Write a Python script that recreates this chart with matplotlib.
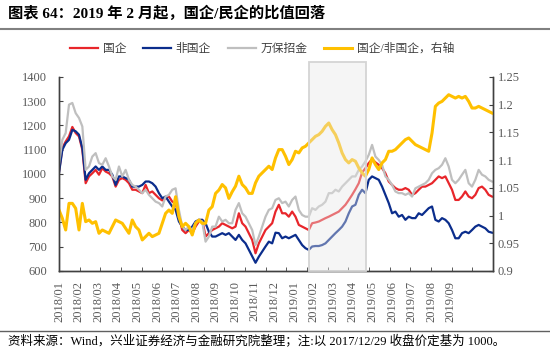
#! /usr/bin/env python3

# 图表64：2019 年 2 月起，国企/民企的比值回落

import numpy as np
import matplotlib.pyplot as plt
from matplotlib.patches import Rectangle
from matplotlib.lines import Line2D
import matplotlib.transforms as mtransforms

plt.rcParams['font.family'] = ['Liberation Serif', 'Noto Sans CJK SC']

# Values, one point every ~3.4 trading days (2018/01 - 2019/10).
guoqi = [1010, 1107, 1134, 1155, 1194, 1169, 1155, 1100, 962, 990, 1003, 1017, 997, 1024, 1010, 1003,
         990, 948, 976, 983, 976, 962, 935, 935, 928, 921, 955, 921, 928, 914, 900, 891,
         900, 907, 886, 880, 824, 769, 756, 769, 756, 783, 804, 811, 742, 756, 769, 776, 783,
         797, 790, 783, 776, 783, 838, 797, 783, 756, 728, 673, 714, 742, 769, 783, 797,
         845, 873, 838, 838, 824, 845, 824, 790, 783, 776, 769, 797, 800, 804, 811, 818, 824,
         831, 838, 845, 859, 873, 893, 914, 937, 962, 1006, 1024, 1045, 1061, 1048, 1038, 1024,
         1003, 969, 955, 942, 935, 935, 942, 935, 914, 921, 935, 948, 948, 955, 962, 976, 990,
         983, 990, 962, 935, 893, 893, 907, 928, 907, 900, 914, 942, 948, 935, 914, 907]
feiguoqi = [1005, 1100, 1127, 1141, 1182, 1176, 1162, 1107, 976, 1003, 1017, 1031, 1017, 1031, 1017, 1017,
            997, 955, 990, 990, 983, 976, 948, 948, 948, 955, 969, 969, 962, 948, 921, 900,
            907, 886, 866, 852, 804, 783, 769, 769, 783, 804, 811, 811, 797, 762, 742, 742, 749,
            756, 749, 756, 742, 728, 749, 728, 714, 687, 659, 634, 659, 680, 701, 721, 714,
            758, 756, 735, 742, 735, 742, 749, 728, 707, 694, 687, 701, 703, 703, 707, 714, 728,
            742, 756, 769, 783, 804, 838, 866, 873, 914, 935, 921, 976, 990, 983, 976, 948,
            914, 880, 838, 845, 824, 831, 811, 824, 818, 818, 838, 831, 845, 859, 866, 811, 804,
            818, 811, 797, 769, 735, 735, 756, 762, 756, 769, 783, 790, 783, 776, 762, 758]
wanbao = [1040, 1141, 1169, 1286, 1293, 1251, 1231, 1196, 1017, 1031, 1072, 1086, 1045, 1038, 1065, 1031,
          990, 976, 1031, 990, 1017, 976, 955, 948, 935, 921, 935, 914, 900, 886, 880, 866,
          907, 914, 935, 941, 852, 783, 769, 783, 769, 797, 811, 804, 721, 742, 783, 783, 824,
          804, 811, 797, 797, 852, 880, 838, 824, 797, 769, 707, 742, 783, 824, 852, 859,
          893, 900, 880, 886, 866, 893, 907, 852, 831, 824, 824, 859, 852, 866, 873, 886, 921,
          921, 935, 928, 948, 962, 976, 990, 990, 1017, 1031, 1052, 1079, 1120, 1072, 1058, 1038,
          990, 976, 955, 928, 921, 921, 914, 921, 907, 941, 948, 955, 962, 976, 1003, 1017, 1024,
          1038, 1065, 1031, 976, 962, 976, 997, 1017, 962, 948, 976, 1017, 997, 990, 976, 969]
ratio = [1.010, 0.995, 0.974, 1.022, 1.022, 1.013, 0.974, 1.022, 0.989, 0.992, 0.986, 0.989, 0.968, 0.974,
         0.971, 0.968, 0.980, 0.992, 0.989, 0.986, 0.977, 0.968, 0.992, 0.980, 0.974, 0.956, 0.962, 0.968,
         0.962, 0.965, 0.968, 0.986,
         1.004, 1.010, 1.004, 1.034, 0.998, 0.980, 0.986, 0.980, 0.965, 0.986, 0.992, 0.986, 0.986, 1.010,
         1.016, 1.040, 1.046, 1.056, 1.050, 1.031, 1.043, 1.053, 1.071, 1.056, 1.050, 1.040, 1.040, 1.059,
         1.071, 1.077, 1.083, 1.089, 1.083,
         1.104, 1.119, 1.119, 1.107, 1.092, 1.101, 1.116, 1.113, 1.122, 1.125, 1.131, 1.137, 1.143, 1.146,
         1.152, 1.161, 1.167, 1.155, 1.146, 1.131, 1.113, 1.101, 1.095, 1.101, 1.098, 1.086, 1.077, 1.071,
         1.083, 1.104, 1.092, 1.083, 1.095,
         1.101, 1.116, 1.116, 1.119, 1.125, 1.131, 1.137, 1.140, 1.134, 1.128, 1.125, 1.122, 1.119, 1.116,
         1.149, 1.197, 1.203, 1.206, 1.212, 1.218, 1.215, 1.212, 1.215, 1.212, 1.215, 1.206, 1.194, 1.194,
         1.197, 1.194, 1.191, 1.188, 1.185]

month_labels = ['2018/01', '2018/02', '2018/03', '2018/04', '2018/05', '2018/06', '2018/07',
                '2018/08', '2018/09', '2018/10', '2018/11', '2018/12', '2019/01', '2019/02',
                '2019/03', '2019/04', '2019/05', '2019/06', '2019/07', '2019/08', '2019/09']

# trading-day index of each point; labels every 20 trading days
days = np.arange(len(guoqi)) * 3.4
label_days = np.arange(len(month_labels)) * 20
# shaded period (2019/02 - 2019/04), in trading days
shade_start, shade_end = 255, 313

fig = plt.figure(figsize=(5.5, 3.53), dpi=100)
ax = fig.add_axes([0.1073, 0.2323, 0.789, 0.5496])
ax2 = ax.twinx()

ax.plot(days, guoqi, color='#e8262b', lw=1.6, label='国企')
ax.plot(days, feiguoqi, color='#0b2d8c', lw=1.6, label='非国企')
ax.plot(days, wanbao, color='#bfbfbf', lw=1.6, label='万保招金')
ax2.plot(days, ratio, color='#ffc000', lw=2.2, label='国企/非国企，右轴')

# Axis limits and ticks.
ax.set_xlim(0, 443)
ax.set_ylim(600, 1400)
ax2.set_ylim(0.9, 1.25)
ax.set_yticks(np.arange(600, 1401, 100))
r_ticks = np.arange(0.9, 1.2501, 0.05)
ax2.set_yticks(r_ticks)
ax2.set_yticklabels([f'{round(v, 2):g}' for v in r_ticks])
ax.set_xticks(label_days)
ax.set_xticklabels(month_labels, rotation=90)
ax.set_xticks(np.linspace(0, 443, 22), minor=True)

tc = '#595959'
ax.tick_params(axis='x', which='major', length=0, pad=7, labelsize=9, labelcolor=tc)
ax.tick_params(axis='x', which='minor', direction='in', length=3, color='#404040')
ax.tick_params(axis='y', direction='in', length=3, pad=8.5, labelsize=9, labelcolor=tc,
               color='#404040')
ax2.tick_params(axis='y', direction='in', length=3, pad=3.5, labelsize=9, labelcolor=tc,
                color='#404040')

# Remove the top spine, darken the others.
for a in (ax, ax2):
    a.spines['top'].set_visible(False)
    for s in ('left', 'right', 'bottom'):
        a.spines[s].set_color('#404040')
        a.spines[s].set_linewidth(1)

# Shaded box, drawn over the lines, slightly taller than the plot.
trans = mtransforms.blended_transform_factory(ax2.transData, ax2.transAxes)
ax2.add_patch(Rectangle((shade_start, 0), shade_end - shade_start, 1.079, transform=trans,
                        facecolor=(0.9, 0.9, 0.9, 0.4), edgecolor='#d4d4d4', lw=1.3,
                        clip_on=False, zorder=5))

# Legend across the top.
h1, l1 = ax.get_legend_handles_labels()
h2, l2 = ax2.get_legend_handles_labels()
leg = fig.legend(h1 + h2, l1 + l2, loc='center', bbox_to_anchor=(262 / 550, 1 - 49 / 353),
                 ncol=4, frameon=False, fontsize=8.5, handlelength=2.4, handletextpad=0.4,
                 columnspacing=1.4)
for t in leg.get_texts():
    t.set_color('#404040')

# Title, rules and source note.
fig.text(8 / 550, 1 - 13 / 353, '图表 64：2019 年 2 月起，国企/民企的比值回落',
         fontsize=11, fontweight='bold', va='center', ha='left')
fig.add_artist(Line2D([0, 1], [1 - 29 / 353] * 2, color='#808080', lw=1.5,
                      transform=fig.transFigure))
fig.add_artist(Line2D([0, 1], [1 - 331 / 353] * 2, color='#606060', lw=1,
                      transform=fig.transFigure))
fig.text(8 / 550, 1 - 341 / 353,
         '资料来源：Wind，兴业证券经济与金融研究院整理；注:以 2017/12/29 收盘价定基为 1000。',
         fontsize=9, va='center', ha='left')

fig.savefig('out.png', dpi=100)
